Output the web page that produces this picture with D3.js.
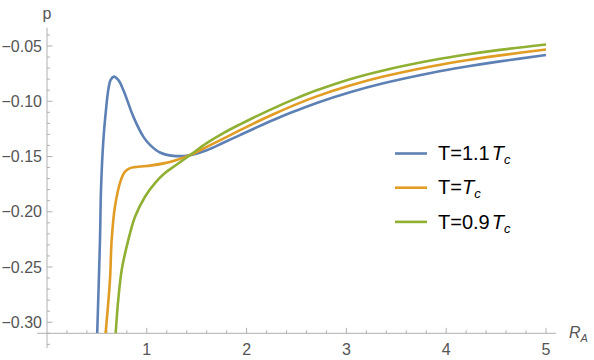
<!DOCTYPE html>
<html>

<head>
    <meta charset="UTF-8">
    <script src="https://d3js.org/d3.v7.min.js"></script>
    <style>
        body {
            margin: 0;
            background: #fff;
        }

        text {
            font-family: "Liberation Sans", Arial, sans-serif;
        }

        .axis-line {
            stroke: #b0b0b0;
            stroke-width: 1px;
        }

        .tick-label {
            fill: #555;
            font-size: 16px;
        }

        .series {
            fill: none;
            stroke-width: 2.6px;
        }
    </style>
</head>

<body>
    <svg width="594" height="360"></svg>

    <script>

        let width = 594, height = 360;

        // R_A and p values for each curve
        let blueR = [0.503, 0.531, 0.541, 0.564, 0.591, 0.614, 0.638, 0.671, 0.714, 0.765, 0.865, 0.965, 1.032, 1.132, 1.266, 1.433, 1.600, 1.767, 1.934, 2.101, 2.268, 2.435, 2.702, 3.036, 3.370, 3.871, 4.205, 4.539, 5.0];
        let blueP = [-0.31, -0.2253, -0.1801, -0.1363, -0.1078, -0.0898, -0.0807, -0.0777, -0.0807, -0.0898, -0.1139, -0.132, -0.1395, -0.1464, -0.1494, -0.1488, -0.1444, -0.1376, -0.1306, -0.1237, -0.1170, -0.1107, -0.1015, -0.0918, -0.0837, -0.0739, -0.0686, -0.0639, -0.0582];

        let orangeR = [0.587, 0.631, 0.648, 0.681, 0.741, 0.782, 0.832, 0.882, 0.932, 1.049, 1.182, 1.283, 1.433, 1.600, 1.767, 1.934, 2.101, 2.268, 2.502, 2.702, 3.036, 3.370, 3.871, 4.205, 4.539, 5.0];
        let orangeP = [-0.31, -0.2614, -0.2253, -0.1952, -0.1711, -0.1636, -0.1605, -0.1596, -0.1591, -0.158, -0.156, -0.1536, -0.1488, -0.1413, -0.1338, -0.1262, -0.1188, -0.1118, -0.1026, -0.0956, -0.0858, -0.0777, -0.0681, -0.0629, -0.0585, -0.0532];

        let greenR = [0.688, 0.714, 0.749, 0.799, 0.882, 0.982, 1.082, 1.182, 1.283, 1.433, 1.600, 1.767, 1.934, 2.101, 2.268, 2.502, 2.702, 3.036, 3.370, 3.871, 4.205, 4.539, 5.0];
        let greenP = [-0.31, -0.2795, -0.2524, -0.2313, -0.2045, -0.1864, -0.1741, -0.165, -0.1584, -0.1488, -0.1379, -0.1288, -0.1209, -0.1135, -0.1064, -0.0972, -0.0901, -0.0800, -0.0721, -0.0627, -0.0577, -0.0535, -0.0486];

        let xMajor = [1, 2, 3, 4, 5];
        let yMajor = [-0.30, -0.25, -0.20, -0.15, -0.10, -0.05];

        let series = [
            { name: "1.1", R: blueR, P: blueP, color: "#5e81b5" },
            { name: "", R: orangeR, P: orangeP, color: "#e19c24" },
            { name: "0.9", R: greenR, P: greenP, color: "#8fb032" }
        ];

        let svg = d3.select("svg");

        let x = d3.scaleLinear().domain([0, 5]).range([47, 546]);
        let y = d3.scaleLinear().domain([-0.31, -0.05]).range([333.3, 46]);

        // clip to the plotting region
        svg.append("clipPath").attr("id", "plot")
            .append("rect")
            .attr("x", x(0)).attr("y", 20)
            .attr("width", 520).attr("height", y(-0.31) - 20);

        // axes
        let axes = svg.append("g");
        axes.append("line").attr("class", "axis-line")
            .attr("x1", x(-0.1)).attr("x2", x(5.1))
            .attr("y1", y(-0.31)).attr("y2", y(-0.31));
        axes.append("line").attr("class", "axis-line")
            .attr("x1", x(0)).attr("x2", x(0))
            .attr("y1", y(-0.0335)).attr("y2", y(-0.3235));

        // x ticks
        let xMinor = d3.range(1, 26).map(i => i * 0.2).filter(v => Math.abs(v - Math.round(v)) > 1e-6);
        axes.selectAll(".xminor").data(xMinor).enter().append("line")
            .attr("class", "axis-line")
            .attr("x1", d => x(d)).attr("x2", d => x(d))
            .attr("y1", y(-0.31)).attr("y2", y(-0.31) - 3);
        axes.selectAll(".xmajor").data(xMajor).enter().append("line")
            .attr("class", "axis-line")
            .attr("x1", d => x(d)).attr("x2", d => x(d))
            .attr("y1", y(-0.31)).attr("y2", y(-0.31) - 5.5);
        axes.selectAll(".xlabel").data(xMajor).enter().append("text")
            .attr("class", "tick-label")
            .attr("x", d => x(d)).attr("y", y(-0.31) + 22)
            .attr("text-anchor", "middle")
            .text(d => d);

        // y ticks
        let yMinor = d3.range(-32, -3).map(i => i / 100).filter(v => Math.abs(v * 20 - Math.round(v * 20)) > 1e-6);
        axes.selectAll(".yminor").data(yMinor).enter().append("line")
            .attr("class", "axis-line")
            .attr("x1", x(0)).attr("x2", x(0) + 3)
            .attr("y1", d => y(d)).attr("y2", d => y(d));
        axes.selectAll(".ymajor").data(yMajor).enter().append("line")
            .attr("class", "axis-line")
            .attr("x1", x(0)).attr("x2", x(0) + 5.5)
            .attr("y1", d => y(d)).attr("y2", d => y(d));
        axes.selectAll(".ylabel").data(yMajor).enter().append("text")
            .attr("class", "tick-label")
            .attr("x", x(0) - 5).attr("y", d => y(d) + 5.5)
            .attr("text-anchor", "end")
            .text(d => d3.format(".2f")(d));

        // axis labels
        svg.append("text").attr("class", "tick-label")
            .attr("x", x(0)).attr("y", 19)
            .attr("text-anchor", "middle")
            .text("p");
        let rl = svg.append("text").attr("class", "tick-label")
            .attr("x", 569).attr("y", 338);
        rl.append("tspan").attr("font-style", "italic").text("R");
        rl.append("tspan").attr("font-style", "italic").attr("font-size", "11px").attr("dy", 4).text("A");

        // curves
        let line = d3.line()
            .x(d => x(d[0]))
            .y(d => y(d[1]))
            .curve(d3.curveCatmullRom.alpha(0.5));

        svg.append("g").attr("clip-path", "url(#plot)")
            .selectAll("path")
            .data(series)
            .enter().append("path")
            .attr("class", "series")
            .attr("stroke", d => d.color)
            .attr("d", d => line(d.R.map((r, i) => [r, d.P[i]])));

        // legend
        let legend = svg.append("g");
        series.forEach((s, i) => {
            let ly = 153.5 + i * 34.2;
            legend.append("line")
                .attr("x1", 395).attr("x2", 427)
                .attr("y1", ly).attr("y2", ly)
                .attr("stroke", s.color).attr("stroke-width", 2.6);
            let t = legend.append("text")
                .attr("x", 438).attr("y", ly + 6.7)
                .attr("font-size", "20px").attr("fill", "#000");
            t.append("tspan").text("T=" + s.name);
            t.append("tspan").attr("font-style", "italic").attr("dx", s.name ? 2 : 0).text("T");
            t.append("tspan").attr("font-style", "italic").attr("font-size", "13px").attr("dy", 4).text("c");
        });

    </script>

</body>

</html>
